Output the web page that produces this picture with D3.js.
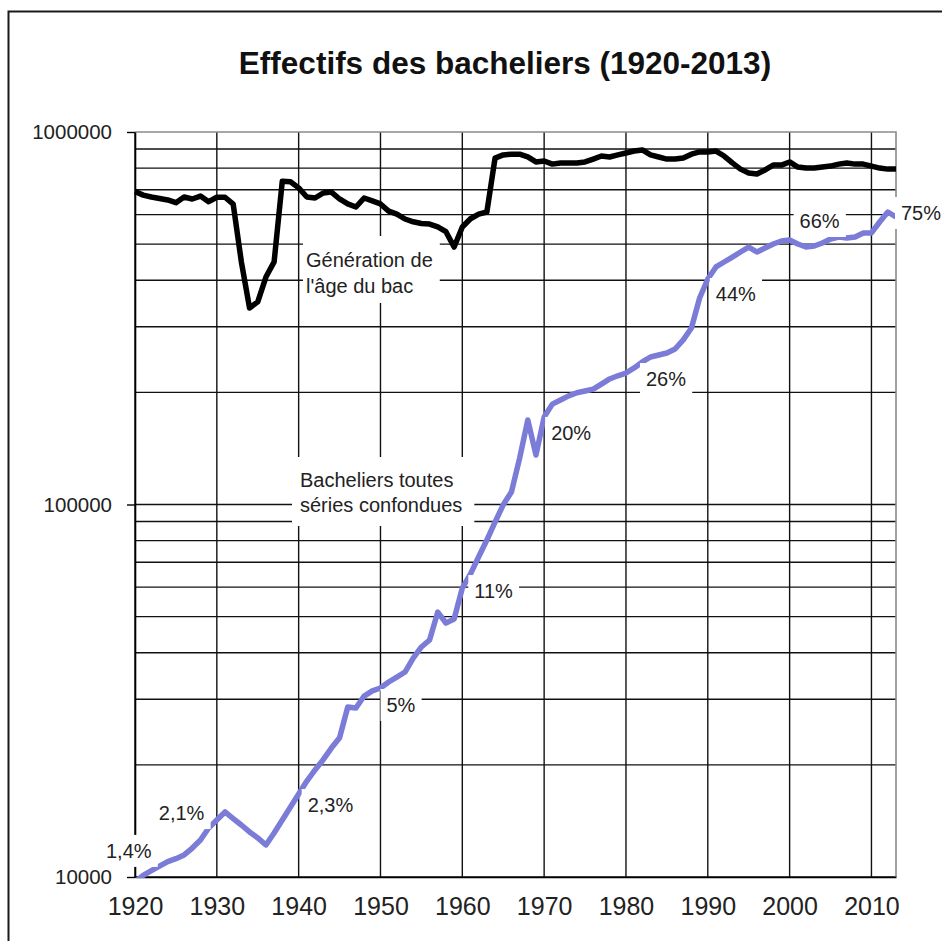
<!DOCTYPE html>
<html>
<head>
<meta charset="utf-8">
<script src="https://cdn.jsdelivr.net/npm/d3@7"></script>
<style>
  body { margin: 0; background: #fff; }
  svg { display: block; }
  text { font-family: "Liberation Sans", Arial, sans-serif; }
</style>
</head>
<body>
<script>
// Années couvertes
const years = d3.range(1920, 2014);

// Effectif d'une génération à l'âge du bac
const generation = [
  692000, 677000, 669000, 663000, 657000, 646000, 669000, 661000, 673000, 650000,
  668000, 668000, 640000, 448000, 337000, 350000, 408000, 448000, 738000, 735000,
  708000, 669000, 665000, 686000, 690000, 661000, 641000, 629000, 665000, 653000,
  641000, 613000, 602000, 584000, 574000, 568000, 566000, 556000, 540000, 491000,
  556000, 585000, 602000, 610000, 851000, 868000, 872000, 872000, 857000, 831000,
  836000, 820000, 826000, 826000, 826000, 831000, 846000, 862000, 857000, 868000,
  878000, 889000, 895000, 868000, 857000, 846000, 846000, 851000, 872000, 884000,
  884000, 889000, 862000, 826000, 795000, 776000, 771000, 791000, 815000, 815000,
  831000, 805000, 800000, 800000, 805000, 810000, 820000, 826000, 820000, 820000,
  810000, 800000, 795000, 795000
];

// Bacheliers, toutes séries confondues
const bacheliers = [
  9700, 10100, 10400, 10700, 11000, 11200, 11460, 11960, 12570, 13540,
  14220, 14950, 14350, 13790, 13210, 12730, 12190, 13130, 14220, 15410,
  16700, 18100, 19380, 20650, 22190, 23650, 28600, 28420, 30600, 31600,
  32170, 33380, 34400, 35500, 38700, 41450, 43270, 51440, 48070, 49270,
  59670, 65100, 72400, 80290, 89700, 99800, 108000, 133000, 168600, 135800,
  171800, 186000, 190800, 195700, 199500, 201700, 204000, 210500, 217300, 221600,
  225400, 232600, 241400, 248900, 252000, 255100, 261500, 276600, 297700, 358400,
  403100, 434200, 447700, 461700, 476200, 491100, 476200, 488000, 500300, 509700,
  513000, 500300, 491100, 494300, 503500, 516100, 522600, 519400, 522600, 535700,
  535700, 573300, 609900, 591300
];

// Graduations
const xTickYears = d3.range(1920, 2011, 10);
const yTickValues = [10000, 100000, 1000000];

// Proportions de bacheliers dans une génération
const rateYears = [1920, 1930, 1940, 1950, 1960, 1970, 1980, 1990, 2000, 2013];
const rateTexts = ["1,4%", "2,1%", "2,3%", "5%", "11%", "20%", "26%", "44%", "66%", "75%"];

// ---- Mise en page ----
const W = 942, H = 941;
const plot = { left: 135, right: 896, top: 132, bottom: 877 };

const svg = d3.select("body").append("svg")
  .attr("width", W).attr("height", H);

svg.append("rect").attr("width", W).attr("height", H).attr("fill", "#fff");

// Cadre extérieur
svg.append("rect")
  .attr("x", 8.5).attr("y", 11.5)
  .attr("width", W + 20).attr("height", H + 20)
  .attr("fill", "none").attr("stroke", "#1a1a1a").attr("stroke-width", 2);

const x = d3.scaleLinear().domain([1920, 2013]).range([plot.left, plot.right]);
const y = d3.scaleLog().domain([10000, 1000000]).range([plot.bottom, plot.top]);

// Quadrillage horizontal (graduations secondaires logarithmiques)
const minorValues = [];
[10000, 100000].forEach(d => { for (let k = 1; k <= 9; k++) minorValues.push(d * k); });

const grid = svg.append("g").attr("stroke", "#111").attr("stroke-width", 1.4);
grid.selectAll("line.h").data(minorValues).join("line")
  .attr("x1", plot.left).attr("x2", plot.right)
  .attr("y1", d => y(d)).attr("y2", d => y(d));
grid.selectAll("line.v").data(xTickYears).join("line")
  .attr("x1", d => x(d)).attr("x2", d => x(d))
  .attr("y1", plot.top).attr("y2", plot.bottom);

// Bordure haute et droite de la zone de tracé
svg.append("path")
  .attr("d", `M${plot.left},${y(1000000)}H${x(2013)}V${plot.bottom}`)
  .attr("fill", "none").attr("stroke", "#8a8a8a").attr("stroke-width", 1.6);

// Axes
const yAxis = svg.append("g")
  .attr("transform", `translate(${plot.left},0)`)
  .call(d3.axisLeft(y).tickValues(yTickValues).tickFormat(d3.format("d"))
    .tickSize(8).tickSizeOuter(0).tickPadding(15));
yAxis.selectAll("text").attr("font-size", 20.5).attr("fill", "#222")
  .style("font-family", '"Liberation Sans", Arial, sans-serif');

const xAxis = svg.append("g")
  .attr("transform", `translate(0,${plot.bottom})`)
  .call(d3.axisBottom(x).tickValues(xTickYears).tickFormat(d3.format("d"))
    .tickSize(0).tickSizeOuter(0).tickPadding(20));
xAxis.selectAll("text").attr("font-size", 25).attr("fill", "#222")
  .style("font-family", '"Liberation Sans", Arial, sans-serif');

[yAxis, xAxis].forEach(g => {
  g.select(".domain").attr("stroke", "#000").attr("stroke-width", 1.6);
  g.selectAll(".tick line").attr("stroke", "#000").attr("stroke-width", 1.4);
});

// Séries
svg.append("clipPath").attr("id", "plot-clip")
  .append("rect")
  .attr("x", plot.left - 4).attr("y", plot.top - 6)
  .attr("width", plot.right - plot.left + 5)
  .attr("height", plot.bottom - plot.top + 7);

const line = d3.line().x(d => x(d[0])).y(d => y(d[1]));
const lines = svg.append("g").attr("clip-path", "url(#plot-clip)");

lines.append("path")
  .datum(years.map((yr, i) => [yr, generation[i]]))
  .attr("d", line)
  .attr("fill", "none").attr("stroke", "#000")
  .attr("stroke-width", 5.5).attr("stroke-linejoin", "round");

lines.append("path")
  .datum(years.map((yr, i) => [yr, bacheliers[i]]))
  .attr("d", line)
  .attr("fill", "none").attr("stroke", "#7b7bd8")
  .attr("stroke-width", 5.5).attr("stroke-linejoin", "round");

// Zones de texte des séries
function textBox(lines, left, baseline, gap, pad) {
  const g = svg.append("g");
  const bg = g.append("rect").attr("fill", "#fff");
  const t = g.append("text").attr("font-size", 20).attr("fill", "#222");
  lines.forEach((s, i) => {
    t.append("tspan").attr("x", left).attr("y", baseline + i * gap).text(s);
  });
  const b = t.node().getBBox();
  bg.attr("x", b.x - pad[3]).attr("y", b.y - pad[0])
    .attr("width", b.width + pad[1] + pad[3])
    .attr("height", b.height + pad[0] + pad[2]);
}

textBox(["Génération de", "l'âge du bac"], 306, 267, 26, [13, 7, 6, 3]);
textBox(["Bacheliers toutes", "séries confondues"], 300, 487, 25, [12, 12, 10, 8]);

// Étiquettes des proportions, placées près du point de l'année
const rateOffsets = [
  [-29, -24], [-58, 0], [9, 18], [6, 24], [12, 10],
  [7, 23], [20, 13], [8, 22], [10, -12], [5, 3]
];
rateYears.forEach((yr, i) => {
  const v = bacheliers[years.indexOf(yr)];
  const px = Math.max(x(yr), plot.left), py = Math.min(y(v), plot.bottom + 5);
  textBox([rateTexts[i]], px + rateOffsets[i][0], py + rateOffsets[i][1], 0, [5, 6, 5, 6]);
});

// Titre
svg.append("text")
  .attr("x", 505).attr("y", 74)
  .attr("text-anchor", "middle")
  .attr("font-size", 31.5).attr("font-weight", "bold").attr("fill", "#111")
  .text("Effectifs des bacheliers (1920-2013)");
</script>
</body>
</html>
